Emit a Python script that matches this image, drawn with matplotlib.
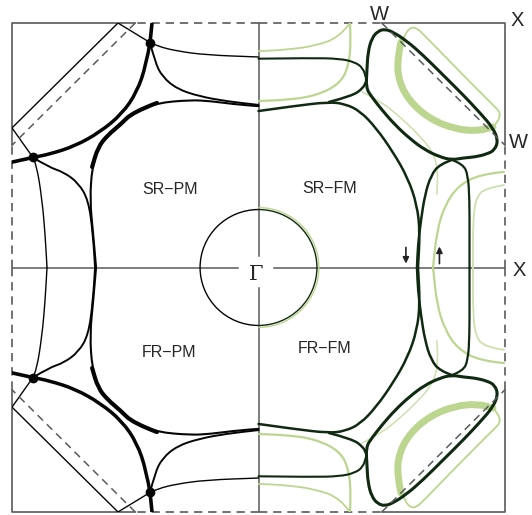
import numpy as np
import matplotlib.pyplot as plt
from matplotlib.path import Path
from matplotlib.patches import PathPatch, Arc

# k-points (units of 2pi/a), first quadrant; other quadrants are reflections
X_pt = 1.0
W_pt = 0.5
gamma_r = 0.237  # small electron sphere around Gamma

# paramagnetic sheets (black)
pm_A = [(0.00, 0.660), (0.075, 0.665), (0.197, 0.681), (0.278, 0.685), (0.412, 0.673),
        (0.509, 0.636), (0.562, 0.583), (0.611, 0.542), (0.651, 0.493), (0.675, 0.411),
        (0.684, 0.276), (0.671, 0.141), (0.659, 0.00)]
pm_D1 = [(0.44, 0.92), (0.42, 0.84), (0.39, 0.78), (0.33, 0.73), (0.24, 0.70), (0.13, 0.68), (0.0, 0.665)]
pm_D2 = [(0.915, 0.45), (0.85, 0.41), (0.79, 0.39), (0.73, 0.345), (0.69, 0.275), (0.672, 0.14), (0.663, 0.0)]
pm_R1 = [(0.44, 0.92), (0.41, 0.905), (0.33, 0.885), (0.21, 0.869), (0.0, 0.861)]
pm_R2 = [(0.915, 0.45), (0.90, 0.42), (0.878, 0.276), (0.866, 0.141), (0.858, 0.0)]
pm_T = [(0.44, 0.92), (0.456, 0.828), (0.493, 0.718), (0.554, 0.628), (0.643, 0.554),
        (0.744, 0.497), (0.846, 0.464), (0.915, 0.45)]
pm_P = [(0.44, 0.92), (0.57, 1.0), (1.0, 0.571), (0.915, 0.45)]
pm_arms = [[(0.44, 0.92), (0.432, 1.0)], [(0.915, 0.45), (1.0, 0.431)]]
pm_junctions = [(0.44, 0.92), (0.915, 0.45)]

# ferromagnetic, minority/majority (dark / light green), right half
fm_DA = [(0.0, 0.640), (0.148, 0.661), (0.286, 0.677), (0.351, 0.669), (0.412, 0.640),
         (0.477, 0.571), (0.546, 0.472), (0.606, 0.366), (0.643, 0.256), (0.655, 0.145), (0.647, 0.0)]
fm_neck = [(0.286, 0.677), (0.379, 0.701), (0.424, 0.733), (0.436, 0.76)]
fm_pocket = [(0.436, 0.734), (0.440, 0.808), (0.444, 0.881), (0.460, 0.939), (0.485, 0.967),
             (0.513, 0.975), (0.546, 0.963), (0.602, 0.926), (0.667, 0.869), (0.749, 0.787),
             (0.830, 0.706), (0.899, 0.632), (0.951, 0.571), (0.972, 0.521), (0.959, 0.481),
             (0.927, 0.464), (0.878, 0.452), (0.830, 0.448), (0.785, 0.440), (0.736, 0.452),
             (0.675, 0.481), (0.615, 0.526), (0.554, 0.583), (0.501, 0.644), (0.460, 0.697)]
fm_Vr = [(0.785, 0.440), (0.830, 0.423), (0.850, 0.378), (0.856, 0.276), (0.856, 0.133), (0.856, 0.0)]
fm_Vl = [(0.785, 0.440), (0.736, 0.423), (0.700, 0.378), (0.675, 0.297), (0.659, 0.194),
         (0.647, 0.092), (0.643, 0.0)]
fm_H1 = [(0.0, 0.854), (0.217, 0.857), (0.331, 0.854), (0.391, 0.840), (0.424, 0.816), (0.436, 0.775)]

fm_cres = [(0.578, 0.922), (0.562, 0.849), (0.570, 0.759), (0.615, 0.677), (0.696, 0.607),
           (0.797, 0.566), (0.890, 0.558), (0.951, 0.575)]
fm_lpocket = [(0.951, 0.575), (0.996, 0.620), (0.939, 0.677), (0.830, 0.787), (0.696, 0.926),
              (0.623, 1.0), (0.578, 0.922)]
fm_L2 = [(0.371, 1.0), (0.375, 0.931), (0.367, 0.828), (0.331, 0.751), (0.229, 0.701),
         (0.108, 0.685), (0.0, 0.681)]
fm_L3 = [(0.371, 1.0), (0.331, 0.943), (0.229, 0.906), (0.108, 0.890), (0.0, 0.885)]
fm_L5 = [(0.996, 0.391), (0.899, 0.382), (0.809, 0.333), (0.757, 0.256), (0.724, 0.153), (0.708, 0.0)]
fm_L6 = [(0.996, 0.337), (0.919, 0.325), (0.882, 0.284), (0.870, 0.194), (0.870, 0.0)]
fm_L7 = [(0.420, 0.718), (0.493, 0.681), (0.574, 0.616), (0.655, 0.538), (0.708, 0.472),
         (0.728, 0.399), (0.724, 0.30)]

# spin arrows: (k_x, tail k_y, head k_y)
spin_arrows = [(0.598, 0.082, 0.016), (0.734, 0.016, 0.086)]

BLACK = "#050505"
DARK = "#0f2a10"
LIGHT = "#bcd690"
PALE = "#cde0ad"
GRID = "#5a5a5a"


def curve(ax, pts, sx, sy, smooth=True, closed=False, **kw):
    p = np.asarray(pts, float) * [sx, sy]
    n = len(p)
    if closed:
        verts = [(p[0] + p[1]) / 2]
        codes = [Path.MOVETO]
        for i in range(1, n + 1):
            verts += [p[i % n], (p[i % n] + p[(i + 1) % n]) / 2]
            codes += [Path.CURVE3, Path.CURVE3]
    elif not smooth or n < 3:
        verts = list(p)
        codes = [Path.MOVETO] + [Path.LINETO] * (n - 1)
    else:
        verts = [p[0]]
        codes = [Path.MOVETO]
        for i in range(1, n - 1):
            verts += [p[i], (p[i] + p[i + 1]) / 2]
            codes += [Path.CURVE3, Path.CURVE3]
        verts.append(p[-1])
        codes.append(Path.LINETO)
    patch = PathPatch(Path(verts, codes), fill=False, capstyle="round", joinstyle="round", **kw)
    ax.add_patch(patch)


fig = plt.figure(figsize=(5.32, 5.15), dpi=100)
ax = fig.add_axes([12 / 532, 3 / 515, 493 / 532, 489 / 515])
ax.set_xlim(-1, 1)
ax.set_ylim(-1, 1)
ax.axis("off")

# Brillouin zone frame
for sx in (-1, 1):
    for sy in (-1, 1):
        ax.plot([sx * W_pt, sx * X_pt, sx * X_pt], [sy * X_pt, sy * X_pt, sy * W_pt],
                color=GRID, lw=1.2, clip_on=False, zorder=1)
        ax.plot([0, sx * W_pt], [sy * X_pt, sy * X_pt], color=GRID, lw=1.2,
                ls=(0, (5, 3.5)), clip_on=False, zorder=1)
        ax.plot([sx * X_pt, sx * X_pt], [0, sy * W_pt], color=GRID, lw=1.2,
                ls=(0, (5, 3.5)), clip_on=False, zorder=1)
        ax.plot([sx * W_pt, sx * X_pt], [sy * X_pt, sy * W_pt], color=GRID, lw=1.1,
                ls=(0, (5, 3.5)), clip_on=False, zorder=4)

# Gamma-X axes, broken around the label
ax.plot([-1, -0.083], [0, 0], color=GRID, lw=1.1, zorder=1)
ax.plot([0.063, 1], [0, 0], color=GRID, lw=1.1, zorder=1)
ax.plot([0, 0], [1, 0.045], color=GRID, lw=1.1, zorder=1)
ax.plot([0, 0], [-0.084, -1], color=GRID, lw=1.1, zorder=1)

# paramagnetic half
ax.add_patch(Arc((0, 0), 2 * gamma_r, 2 * gamma_r, theta1=90, theta2=270, color=BLACK, lw=1.0, zorder=3))
for sy in (1, -1):
    sx = -1
    curve(ax, pm_A, sx, sy, ec=BLACK, lw=1.5, zorder=3)
    curve(ax, pm_A[4:10], sx, sy, ec=BLACK, lw=3.0, zorder=3)
    curve(ax, pm_D1, sx, sy, ec=BLACK, lw=1.4, zorder=3)
    curve(ax, pm_D2, sx, sy, ec=BLACK, lw=1.4, zorder=3)
    curve(ax, pm_R1, sx, sy, ec=BLACK, lw=1.0, zorder=3)
    curve(ax, pm_R2, sx, sy, ec=BLACK, lw=1.0, zorder=3)
    curve(ax, pm_T, sx, sy, ec=BLACK, lw=2.5, zorder=3)
    curve(ax, pm_P, sx, sy, smooth=False, ec=BLACK, lw=1.0, zorder=3)
    for arm in pm_arms:
        curve(ax, arm, sx, sy, ec=BLACK, lw=2.6, zorder=3)
    jx, jy = np.array(pm_junctions).T
    ax.plot(sx * jx, sy * jy, "o", color=BLACK, ms=6, zorder=3)

# ferromagnetic half
ax.add_patch(Arc((0, 0), 2 * gamma_r + 0.016, 2 * gamma_r + 0.016, theta1=-90, theta2=90,
                 color=LIGHT, lw=1.0, zorder=2))
ax.add_patch(Arc((0, 0), 2 * gamma_r, 2 * gamma_r, theta1=-90, theta2=90, color=DARK, lw=1.0, zorder=3))
for sy in (1, -1):
    sx = 1
    curve(ax, fm_cres, sx, sy, ec=LIGHT, lw=5.0, zorder=2)
    curve(ax, fm_lpocket, sx, sy, ec=LIGHT, lw=1.3, zorder=2)
    curve(ax, fm_L2, sx, sy, ec=LIGHT, lw=1.6, zorder=2)
    curve(ax, fm_L3, sx, sy, ec=LIGHT, lw=1.3, zorder=2)
    curve(ax, fm_L5, sx, sy, ec=LIGHT, lw=1.6, zorder=2)
    curve(ax, fm_L6, sx, sy, ec=PALE, lw=1.3, zorder=2)
    curve(ax, fm_L7, sx, sy, ec=PALE, lw=1.1, zorder=2)

    curve(ax, fm_DA, sx, sy, ec=DARK, lw=1.8, zorder=3)
    curve(ax, fm_neck, sx, sy, ec=DARK, lw=1.8, zorder=3)
    curve(ax, fm_pocket, sx, sy, closed=True, ec=DARK, lw=2.2, zorder=3)
    curve(ax, fm_Vr, sx, sy, ec=DARK, lw=1.6, zorder=3)
    curve(ax, fm_Vl, sx, sy, ec=DARK, lw=1.8, zorder=3)
    curve(ax, fm_H1, sx, sy, ec=DARK, lw=1.5, zorder=3)

# labels
lab = dict(fontsize=11.5, family="Liberation Sans", color="#262626", ha="center", va="center")
ax.text(-0.359, 0.317, "SR\u2212PM", **lab)
ax.text(0.29, 0.325, "SR\u2212FM", **lab)
ax.text(-0.363, -0.346, "FR\u2212PM", **lab)
ax.text(0.267, -0.333, "FR\u2212FM", **lab)

sym = dict(fontsize=14.5, family="Liberation Sans", color="#262626", ha="center", va="center", clip_on=False)
ax.text(0.489, 1.036, "W", **sym)
ax.text(1.049, 1.012, "X", **sym)
ax.text(1.053, 0.513, "W", **sym)
ax.text(1.057, -0.014, "X", **sym)
ax.text(-0.01, -0.027, "\u0393", fontsize=15, family="DejaVu Serif", color="#262626",
        ha="center", va="center")

for kx, k0, k1 in spin_arrows:
    ax.annotate("", xy=(kx, k1), xytext=(kx, k0),
                arrowprops=dict(arrowstyle="-|>", color="#222222", lw=1.2,
                                mutation_scale=9, shrinkA=0, shrinkB=0))

fig.savefig("out.png", dpi=100, facecolor="white")
